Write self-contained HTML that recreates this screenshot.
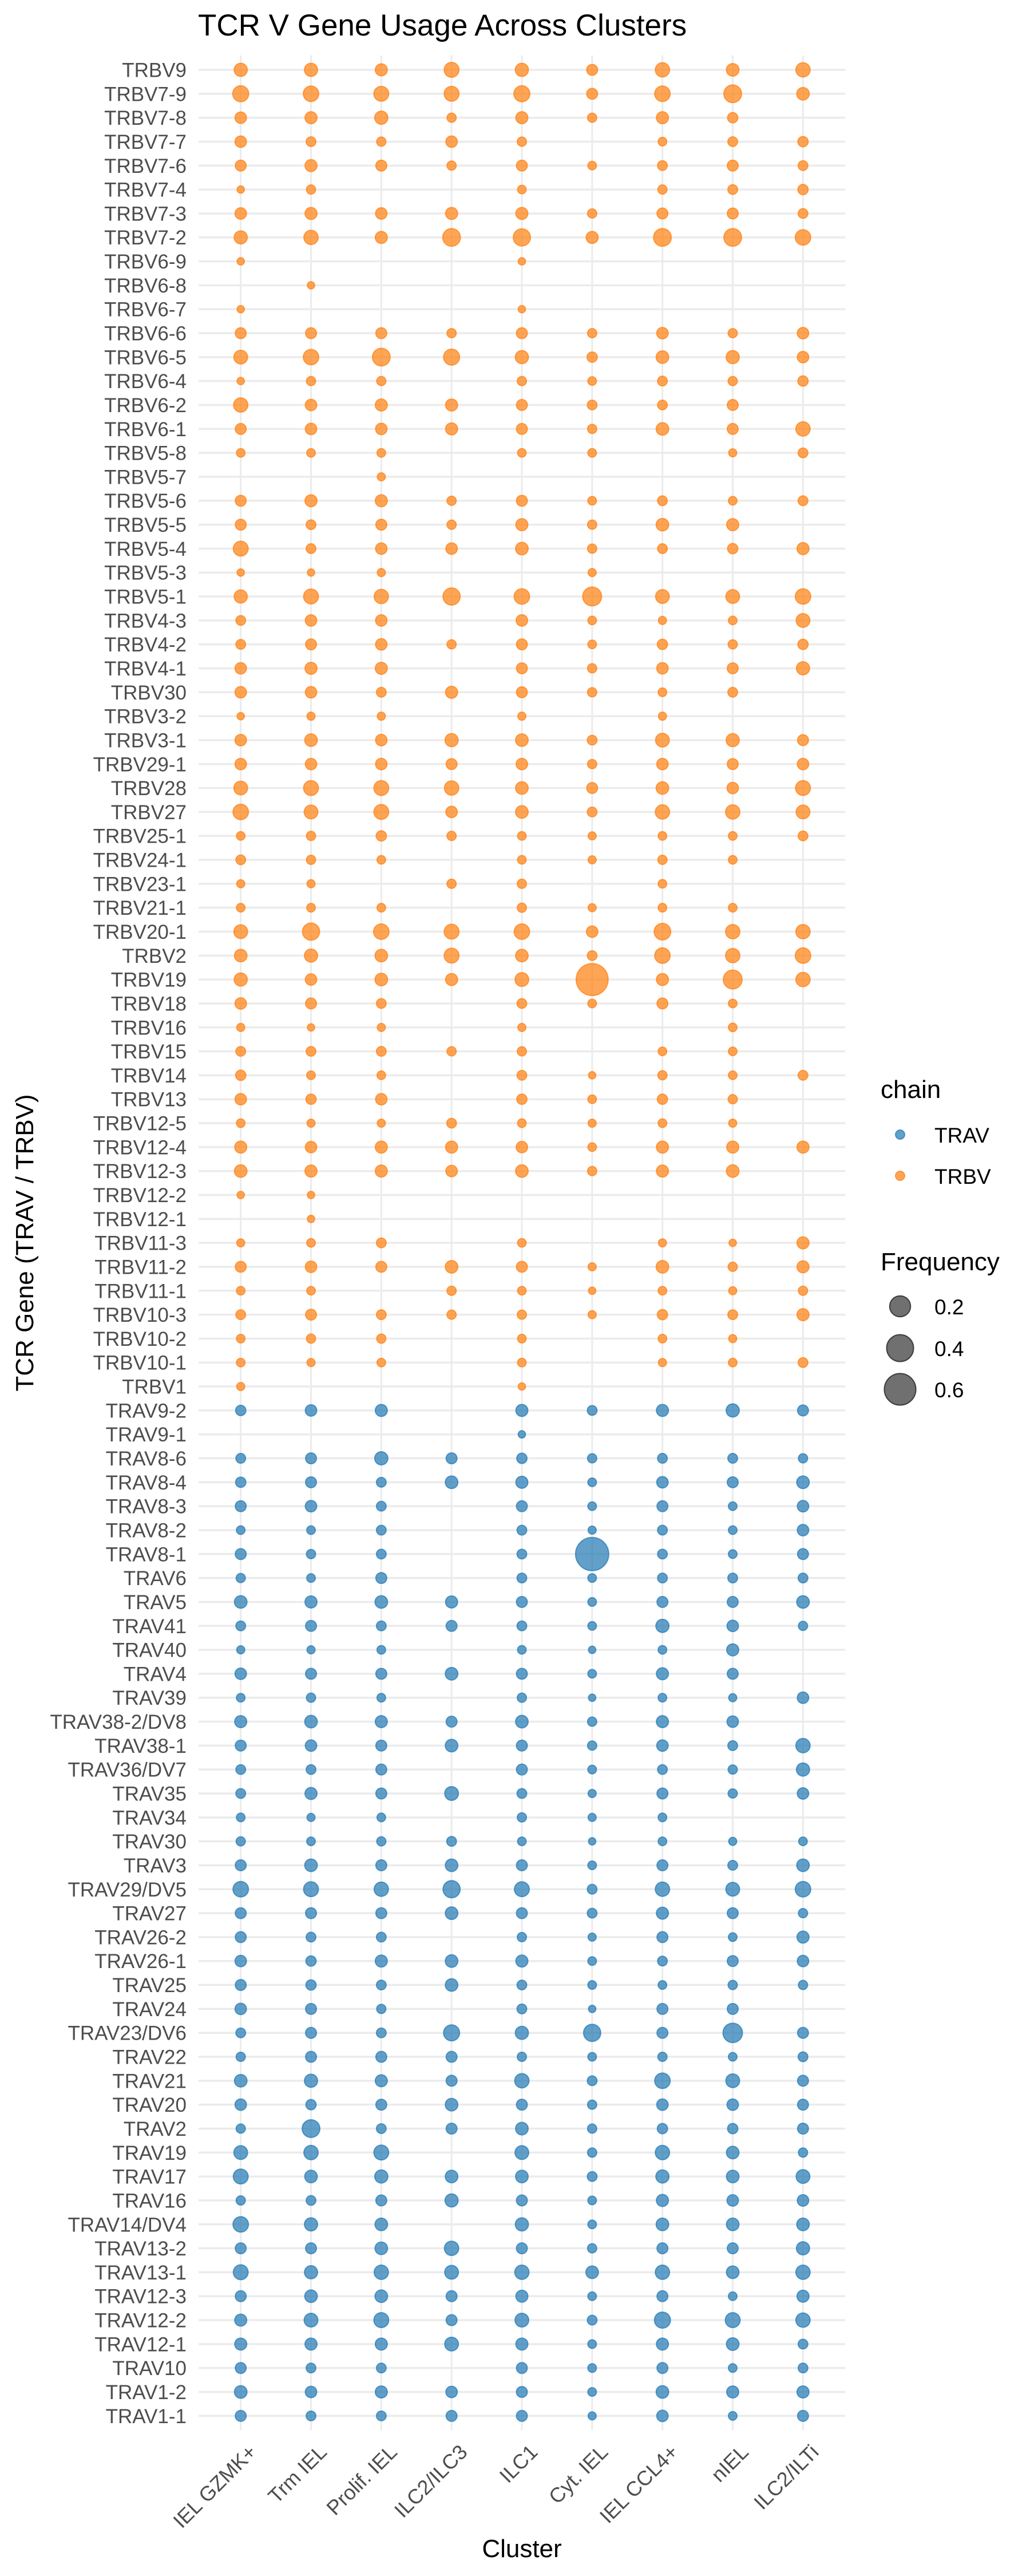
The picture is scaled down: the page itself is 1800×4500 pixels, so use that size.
<!DOCTYPE html>
<html><head><meta charset="utf-8"><title>TCR V Gene Usage Across Clusters</title>
<style>html,body{margin:0;padding:0;background:#fff}svg{display:block}text{font-family:"Liberation Sans",Arial,sans-serif}</style>
</head><body>
<svg id="chart" width="1800" height="4500" viewBox="0 0 1800 4500" xmlns="http://www.w3.org/2000/svg">
<rect width="1800" height="4500" fill="#fff"/>
<text x="346" y="62" font-size="53" fill="#000">TCR V Gene Usage Across Clusters</text>
<g id="grid"></g>
<g id="ylabels"></g>
<g id="xlabels"></g>
<g id="points"></g>
<text x="912" y="4467" font-size="44" text-anchor="middle" fill="#000">Cluster</text>
<text transform="translate(58,2171) rotate(-90)" font-size="44" text-anchor="middle" fill="#000">TCR Gene (TRAV / TRBV)</text>
<g id="legend">
<text x="1539" y="1918" font-size="44" fill="#000">chain</text>
<text x="1539" y="2219" font-size="44" fill="#000">Frequency</text>
</g>
</svg>
<script>
const clusters = ["IEL GZMK+","Trm IEL","Prolif. IEL","ILC2/ILC3","ILC1","Cyt. IEL","IEL CCL4+","nIEL","ILC2/ILTi"];
const genes = ["TRBV9","TRBV7-9","TRBV7-8","TRBV7-7","TRBV7-6","TRBV7-4","TRBV7-3","TRBV7-2","TRBV6-9","TRBV6-8","TRBV6-7","TRBV6-6","TRBV6-5","TRBV6-4","TRBV6-2","TRBV6-1","TRBV5-8","TRBV5-7","TRBV5-6","TRBV5-5","TRBV5-4","TRBV5-3","TRBV5-1","TRBV4-3","TRBV4-2","TRBV4-1","TRBV30","TRBV3-2","TRBV3-1","TRBV29-1","TRBV28","TRBV27","TRBV25-1","TRBV24-1","TRBV23-1","TRBV21-1","TRBV20-1","TRBV2","TRBV19","TRBV18","TRBV16","TRBV15","TRBV14","TRBV13","TRBV12-5","TRBV12-4","TRBV12-3","TRBV12-2","TRBV12-1","TRBV11-3","TRBV11-2","TRBV11-1","TRBV10-3","TRBV10-2","TRBV10-1","TRBV1","TRAV9-2","TRAV9-1","TRAV8-6","TRAV8-4","TRAV8-3","TRAV8-2","TRAV8-1","TRAV6","TRAV5","TRAV41","TRAV40","TRAV4","TRAV39","TRAV38-2/DV8","TRAV38-1","TRAV36/DV7","TRAV35","TRAV34","TRAV30","TRAV3","TRAV29/DV5","TRAV27","TRAV26-2","TRAV26-1","TRAV25","TRAV24","TRAV23/DV6","TRAV22","TRAV21","TRAV20","TRAV2","TRAV19","TRAV17","TRAV16","TRAV14/DV4","TRAV13-2","TRAV13-1","TRAV12-3","TRAV12-2","TRAV12-1","TRAV10","TRAV1-2","TRAV1-1"];
const freq = [
[.044,.044,.031,.069,.044,.02,.06,.037,.06],
[.089,.079,.069,.069,.089,.02,.079,.123,.037],
[.025,.031,.044,.008,.031,.008,.031,.015,0],
[.025,.011,.008,.025,.008,0,.005,.011,.015],
[.02,.031,.02,.008,.02,.005,.011,.02,.011],
[.001,.008,0,0,.005,0,.008,.011,.015],
[.025,.031,.025,.031,.031,.008,.02,.02,.011],
[.044,.06,.031,.123,.111,.031,.123,.123,.079],
[.001,0,0,0,.001,0,0,0,0],
[0,.001,0,0,0,0,0,0,0],
[.001,0,0,0,.001,0,0,0,0],
[.02,.02,.02,.008,.02,.008,.025,.008,.025],
[.052,.079,.123,.089,.044,.015,.037,.044,.025],
[.001,.008,.008,0,.008,.005,.011,.008,.015],
[.06,.025,.031,.031,.02,.011,.011,.02,0],
[.02,.025,.025,.031,.02,.008,.037,.02,.06],
[.005,.005,.005,0,.005,.005,0,.003,.011],
[0,0,.003,0,0,0,0,0,0],
[.02,.031,.031,.008,.02,.005,.011,.005,.011],
[.02,.011,.02,.008,.031,.008,.037,.031,0],
[.069,.011,.025,.025,.037,.008,.011,.015,.031],
[.001,.001,.003,0,0,.003,0,0,0],
[.044,.069,.06,.111,.079,.149,.052,.052,.079],
[.011,.025,.025,0,.025,.005,.003,.005,.052],
[.011,.02,.025,.008,.02,.005,.015,.008,.015],
[.025,.031,.031,0,.02,.008,.025,.02,.044],
[.025,.025,.011,.031,.02,.008,.005,.011,0],
[.001,.003,.003,0,.003,0,.003,0,0],
[.025,.037,.025,.044,.037,.011,.052,.044,.02],
[.025,.025,.025,.02,.025,.008,.025,.02,.025],
[.052,.069,.069,.06,.037,.02,.037,.025,.069],
[.079,.052,.069,.025,.037,.011,.06,.06,.052],
[.005,.008,.015,.008,.005,.003,.005,.005,.011],
[.011,.008,.005,0,.005,.003,.008,.005,0],
[.003,.003,0,.008,.008,0,.005,0,0],
[.005,.005,.005,0,.008,.003,.005,.005,0],
[.052,.111,.079,.069,.079,.025,.1,.06,.06],
[.037,.044,.037,.069,.037,.011,.079,.06,.079],
[.044,.025,.037,.031,.052,.62,.031,.149,.06],
[.025,.02,.011,0,.011,.005,.02,.005,0],
[.003,.001,.003,0,.003,0,0,.005,0],
[.011,.011,.011,.008,.008,0,.005,.005,0],
[.015,.005,.005,0,.011,.001,.008,.005,.011],
[.025,.015,.025,0,.015,.005,.015,.008,0],
[.005,.003,.003,.011,.005,.003,.005,.003,0],
[.031,.025,.031,.031,.025,.005,.031,.031,.031],
[.037,.031,.031,.025,.037,.008,.031,.037,0],
[.001,.001,0,0,0,0,0,0,0],
[0,.001,0,0,0,0,0,0,0],
[.003,.005,.011,0,.005,0,.003,.001,.031],
[.02,.025,.02,.037,.02,.003,.037,.008,.031],
[.005,.005,0,.008,.005,.001,.005,.003,.008],
[.011,.02,.011,.008,.008,.003,.015,.011,.031],
[.005,.008,.008,0,.005,0,.005,.003,0],
[.005,.003,.005,0,.005,0,.003,.005,.011],
[.003,0,0,0,.001,0,0,0,0],
[.015,.025,.031,0,.031,.011,.031,.044,.02],
[0,0,0,0,.001,0,0,0,0],
[.011,.02,.044,.02,.015,.008,.011,.011,.008],
[.015,.02,.011,.037,.031,.005,.025,.02,.037],
[.02,.025,.011,0,.02,.005,.02,.005,.025],
[.005,.005,.011,0,.011,.003,.011,.005,.025],
[.02,.008,.011,0,.011,.68,.011,.005,.02],
[.008,.005,.02,0,.011,.005,.011,.011,.011],
[.037,.031,.037,.031,.02,.005,.02,.02,.037],
[.011,.02,.011,.02,.011,.005,.044,.025,.008],
[.003,.003,.005,0,.005,.001,.005,.031,0],
[.025,.02,.02,.037,.02,.005,.031,.02,0],
[.005,.008,.005,0,.008,.001,.005,.003,.025],
[.031,.037,.031,.02,.037,.008,.031,.025,0],
[.02,.025,.02,.037,.02,.008,.025,.011,.06],
[.011,.011,.02,0,.02,.005,.011,.008,.044],
[.011,.031,.02,.052,.011,.003,.02,.008,.025],
[.005,.003,.005,0,.008,.003,.005,0,0],
[.008,.005,.008,.011,.005,.001,.005,.003,.005],
[.02,.037,.02,.037,.02,.005,.02,.011,.037],
[.079,.069,.06,.111,.069,.011,.06,.052,.079],
[.02,.02,.02,.037,.02,.011,.031,.02,.008],
[.02,.011,.011,0,.008,.003,.02,.005,.031],
[.025,.015,.031,.037,.031,.005,.011,.02,.025],
[.02,.015,.011,.037,.011,.005,.005,.008,.008],
[.025,.02,.008,0,.011,.001,.02,.02,0],
[.011,.02,.011,.089,.044,.111,.02,.163,.02],
[.008,.02,.02,.02,.008,.005,.008,.005,.011],
[.037,.044,.031,.02,.06,.011,.079,.052,.02],
[.025,.015,.02,.037,.02,.008,.025,.025,.02],
[.008,.123,.011,.02,.037,.008,.015,.015,.02],
[.052,.06,.069,0,.052,.008,.06,.037,.008],
[.069,.037,.044,.037,.037,.011,.044,.037,.052],
[.008,.011,.02,.044,.02,.005,.031,.025,.025],
[.079,.044,.037,0,.044,.005,.037,.037,.037],
[.02,.02,.037,.06,.02,.008,.02,.02,.044],
[.069,.044,.06,.052,.06,.037,.06,.037,.06],
[.02,.037,.037,.02,.031,.005,.02,.005,.031],
[.031,.052,.069,.02,.052,.011,.089,.069,.06],
[.031,.031,.031,.052,.031,.005,.031,.037,.011],
[.02,.011,.011,0,.02,.005,.02,.005,.011],
[.037,.025,.031,.025,.02,.005,.037,.031,.031],
[.02,.011,.011,.02,.02,.003,.025,.005,.02]
];
const chainLabels = ["TRAV","TRBV"];
const sizeBreaks = [0.2,0.4,0.6];
const sizeLabels = ["0.2","0.4","0.6"];

const NS = "http://www.w3.org/2000/svg";
const PL = 347, PR = 1477, PT = 96.9, PB = 4245.4;
const colors = {TRAV:"#1f77b4", TRBV:"#ff7f0e"};
function xPos(i){ const u=(PR-PL)/(clusters.length-1+1.2); return PL+0.6*u+i*u; }
function yPos(j){ const u=(PB-PT)/(genes.length-1+1.2); return PT+0.6*u+j*u; }
function diam(v){ return 13+57*Math.sqrt(v); }
function mk(tag, attrs, parent){ const e=document.createElementNS(NS,tag); for(const k in attrs) e.setAttribute(k,attrs[k]); parent.appendChild(e); return e; }

const grid=document.getElementById('grid');
genes.forEach((g,j)=>{
  const l=mk('line',{x1:PL,x2:PR,y1:yPos(j),y2:yPos(j),stroke:'#ebebeb','stroke-width':3.5},grid);
  
  
});
clusters.forEach((c,i)=>{
  const l=mk('line',{x1:xPos(i),x2:xPos(i),y1:PT,y2:PB,stroke:'#ebebeb','stroke-width':3},grid);
  
  
});
const yl=document.getElementById('ylabels');
genes.forEach((g,j)=>{
  const t=mk('text',{x:326,y:yPos(j)+12.5,'font-size':35,'text-anchor':'end',fill:'#4d4d4d'},yl);
  t.textContent=g;
  
  
});
const xl=document.getElementById('xlabels');
clusters.forEach((c,i)=>{
  const x=xPos(i)+12, y=4268;
  const t=mk('text',{x:x,y:y+25,'font-size':36,'text-anchor':'end',fill:'#4d4d4d',transform:`rotate(-45 ${x} ${y})`},xl);
  t.textContent=c;
  
  
});
const pts=document.getElementById('points');
genes.forEach((g,j)=>{
  const ch=g.startsWith('TRAV')?'TRAV':'TRBV';
  clusters.forEach((c,i)=>{
    const v=freq[j][i];
    if(!v) return;
    const r=diam(v)/2-1;
    const p=mk('circle',{cx:xPos(i),cy:yPos(j),r:r,fill:colors[ch],'fill-opacity':0.7,stroke:colors[ch],'stroke-opacity':0.7,'stroke-width':2},pts);
    
    
  });
});
const lg=document.getElementById('legend');
chainLabels.forEach((c,k)=>{
  const cy=1982+k*72;
  const p=mk('circle',{cx:1573,cy:cy,r:8,fill:colors[c],'fill-opacity':0.7,stroke:colors[c],'stroke-opacity':0.7,'stroke-width':2},lg);
  
  
  const t=mk('text',{x:1633,y:cy+14,'font-size':37,fill:'#000'},lg);
  t.textContent=c;
  
  
});
const sizeY=[2282,2355,2427];
sizeBreaks.forEach((b,k)=>{
  const p=mk('circle',{cx:1573,cy:sizeY[k],r:diam(b)/2-1,fill:'#333','fill-opacity':0.7,stroke:'#222','stroke-opacity':0.8,'stroke-width':2},lg);
  
  
  const t=mk('text',{x:1633,y:sizeY[k]+14,'font-size':37,fill:'#000'},lg);
  t.textContent=sizeLabels[k];
  
  
});
</script>
</body></html>
